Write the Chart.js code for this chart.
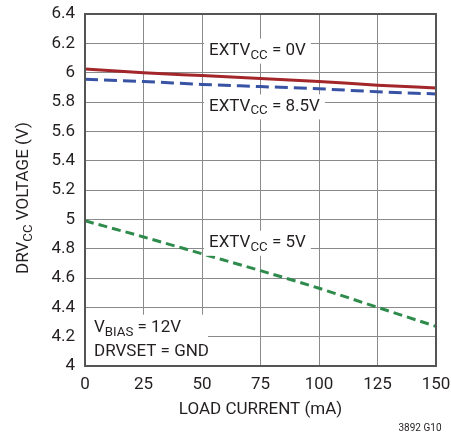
<!DOCTYPE html>
<html>
<head>
<meta charset="utf-8">
<script src="https://cdn.jsdelivr.net/npm/chart.js@4.4.1/dist/chart.umd.min.js"></script>
<style>
  html, body { margin: 0; padding: 0; background: #fff; }
  #wrap { width: 451px; height: 436px; position: relative; }
</style>
</head>
<body>
<div id="wrap"><canvas id="grafico" width="451" height="436"></canvas></div>
<script>
// dados
const loadCurrent = [0, 25, 50, 75, 100, 125, 150];
const extvcc0V = [6.025, 6.0, 5.98, 5.96, 5.94, 5.915, 5.895];
const extvcc85V = [5.955, 5.94, 5.92, 5.905, 5.89, 5.87, 5.855];
const extvcc5V = [4.99, 4.88, 4.765, 4.65, 4.53, 4.40, 4.27];
const xTicks = [0, 25, 50, 75, 100, 125, 150];
const yTicks = [4, 4.2, 4.4, 4.6, 4.8, 5, 5.2, 5.4, 5.6, 5.8, 6, 6.2, 6.4];

const FONTE = '"Liberation Sans Narrow", "Roboto", "Liberation Sans", sans-serif';
const COR_TEXTO = '#231f20';

function pontos(valores) {
    return loadCurrent.map((x, i) => ({ x: x, y: valores[i] }));
}

// escreve texto com subscrito, ex: ['EXTV', 'CC', ' = 0V']
function textoSub(ctx, partes, x, y, tam, desenhar) {
    let cx = x;
    partes.forEach((p, i) => {
        const sub = i % 2 === 1;
        ctx.font = (sub ? tam * 0.78 : tam) + 'px ' + FONTE;
        if (desenhar) ctx.fillText(p, cx, sub ? y + tam * 0.28 : y);
        cx += ctx.measureText(p).width;
    });
    return cx - x;
}

function rotulo(ctx, partes, x, y, tam) {
    ctx.textBaseline = 'middle';
    ctx.textAlign = 'left';
    const w = textoSub(ctx, partes, x, y, tam, false);
    ctx.fillStyle = '#fff';
    ctx.fillRect(x - 5, y - 12, w + 10, 25);
    ctx.fillStyle = COR_TEXTO;
    textoSub(ctx, partes, x, y, tam, true);
}

const anotacoes = {
    id: 'anotacoes',
    afterDatasetsDraw(chart) {
        const ctx = chart.ctx;
        const a = chart.chartArea;
        const sx = chart.scales.x, sy = chart.scales.y;
        ctx.save();
        rotulo(ctx, ['EXTV', 'CC', ' = 0V'], sx.getPixelForValue(53), sy.getPixelForValue(6.15), 17);
        rotulo(ctx, ['EXTV', 'CC', ' = 8.5V'], sx.getPixelForValue(53), sy.getPixelForValue(5.77), 17);
        rotulo(ctx, ['EXTV', 'CC', ' = 5V'], sx.getPixelForValue(53), sy.getPixelForValue(4.84), 17);

        // caixa com condições
        ctx.fillStyle = '#fff';
        ctx.fillRect(a.left + 1, sy.getPixelForValue(4.35), 122, sy.getPixelForValue(4) - sy.getPixelForValue(4.35) - 1);
        ctx.fillStyle = COR_TEXTO;
        ctx.textBaseline = 'middle';
        textoSub(ctx, ['V', 'BIAS', ' = 12V'], a.left + 9, sy.getPixelForValue(4.26), 17, true);
        ctx.font = '17px ' + FONTE;
        ctx.fillText('DRVSET = GND', a.left + 9, sy.getPixelForValue(4.1));

        // moldura
        ctx.strokeStyle = '#555';
        ctx.lineWidth = 2;
        ctx.strokeRect(a.left, a.top, a.right - a.left, a.bottom - a.top);

        // título do eixo y
        ctx.translate(24, (a.top + a.bottom) / 2 + 8);
        ctx.rotate(-Math.PI / 2);
        ctx.textBaseline = 'middle';
        ctx.font = '17px ' + FONTE;
        const w = textoSub(ctx, ['DRV', 'CC', ' VOLTAGE (V)'], 0, 0, 17, false);
        textoSub(ctx, ['DRV', 'CC', ' VOLTAGE (V)'], -w / 2, 0, 17, true);
        ctx.restore();

        ctx.save();
        ctx.fillStyle = COR_TEXTO;
        ctx.textAlign = 'center';
        ctx.textBaseline = 'middle';
        ctx.font = '17px ' + FONTE;
        ctx.fillText('LOAD CURRENT (mA)', (a.left + a.right) / 2, 410);
        ctx.font = '10px ' + FONTE;
        ctx.fillText('3892 G10', 420, 428);
        ctx.restore();
    }
};

const ctx = document.getElementById('grafico').getContext('2d');
new Chart(ctx, {
    type: 'line',
    data: {
        datasets: [
            {
                label: 'EXTVCC = 0V',
                data: pontos(extvcc0V),
                borderColor: '#a3262a',
                borderWidth: 3,
                pointRadius: 0,
                fill: false,
                cubicInterpolationMode: 'monotone'
            },
            {
                label: 'EXTVCC = 8.5V',
                data: pontos(extvcc85V),
                borderColor: '#3853a4',
                borderWidth: 3,
                borderDash: [13, 6],
                pointRadius: 0,
                fill: false,
                cubicInterpolationMode: 'monotone'
            },
            {
                label: 'EXTVCC = 5V',
                data: pontos(extvcc5V),
                borderColor: '#2e8b4c',
                borderWidth: 3,
                borderDash: [9, 5],
                pointRadius: 0,
                fill: false,
                cubicInterpolationMode: 'monotone'
            }
        ]
    },
    options: {
        responsive: false,
        animation: false,
        layout: { padding: { top: 14, right: 15, left: 0, bottom: 0 } },
        scales: {
            x: {
                type: 'linear',
                min: 0,
                max: 150,
                afterBuildTicks: s => { s.ticks = xTicks.map(v => ({ value: v })); },
                afterFit: s => { s.height = 70; s.paddingLeft = 0; s.paddingRight = 0; },
                grid: { color: '#8a8a8a', lineWidth: 1, drawTicks: false },
                border: { display: false },
                ticks: {
                    color: COR_TEXTO,
                    padding: 9,
                    maxRotation: 0,
                    font: { family: FONTE, size: 17 }
                }
            },
            y: {
                min: 4,
                max: 6.4,
                afterBuildTicks: s => { s.ticks = yTicks.map(v => ({ value: v })); },
                afterFit: s => { s.width = 85; s.paddingTop = 0; s.paddingBottom = 0; },
                grid: { color: '#8a8a8a', lineWidth: 1, drawTicks: false },
                border: { display: false },
                ticks: {
                    color: COR_TEXTO,
                    padding: 10,
                    font: { family: FONTE, size: 17 },
                    callback: v => String(+v.toFixed(1))
                }
            }
        },
        plugins: {
            legend: { display: false },
            tooltip: { enabled: false }
        }
    },
    plugins: [anotacoes]
});
</script>
</body>
</html>
